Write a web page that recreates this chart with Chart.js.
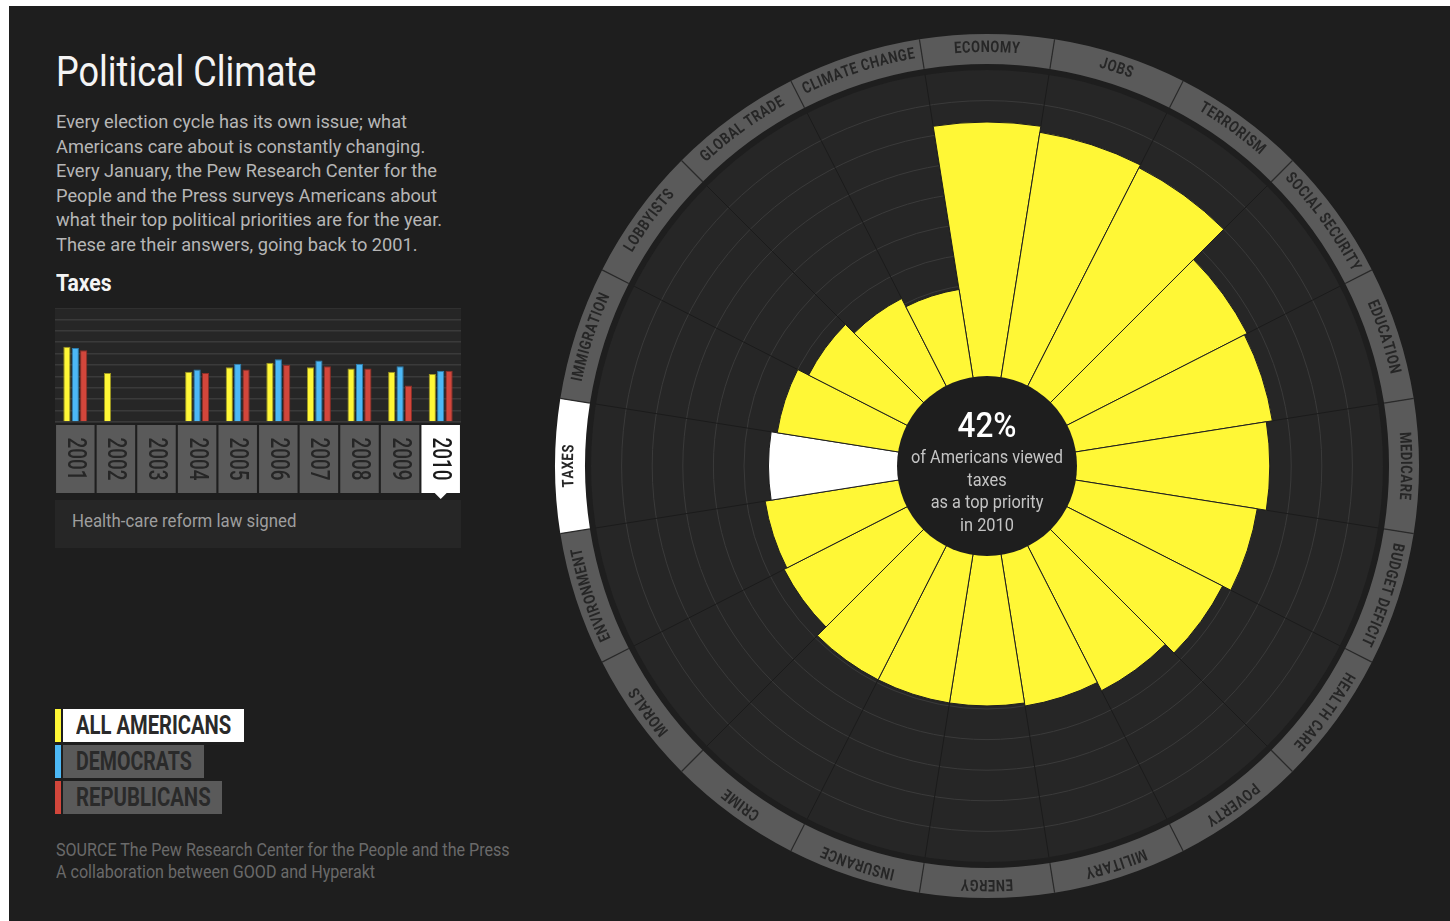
<!DOCTYPE html>
<html>
<head>
<meta charset="utf-8">
<title>Political Climate</title>
<script src="https://cdn.jsdelivr.net/npm/chart.js@4.4.1/dist/chart.umd.min.js"></script>
<style>
  html, body { margin: 0; padding: 0; }
  body {
    width: 1450px; height: 921px; position: relative; overflow: hidden; background: #fff;
    font-family: Roboto, sans-serif;
  }
  #page { position: absolute; left: 9px; top: 6px; right: 0; bottom: 0; background: #1e1e1e; }
  .abs { position: absolute; white-space: nowrap; transform-origin: left top; }
  #title { left: 56px; top: 48px; font-size: 42px; line-height: 48px; color: #f4f4f4; }
  #intro { left: 56px; top: 110px; font-size: 19px; line-height: 24.5px; color: #b6b6b6; }
  #topic { left: 56px; top: 271px; font-size: 23px; line-height: 26px; font-weight: bold; color: #f4f4f4; }
  #barChart { left: 55px; top: 308px; }
  #noteBox { left: 55px; top: 500px; width: 406px; height: 48px; background: #262626; }
  #note { left: 72px; top: 510px; font-size: 18px; line-height: 22px; color: #9e9e9e; }
  #rose { left: 547px; top: 26px; }
  .leg { position: absolute; left: 55px; height: 33px; }
  .leg .stripe { position: absolute; left: 0; top: 0; width: 6px; height: 33px; }
  .leg .box { position: absolute; left: 8px; top: 0; height: 33px; background: #5a5a5a; }
  .leg .txt {
    position: absolute; left: 21px; top: 0; font-size: 25px; font-weight: bold; line-height: 33px;
    color: #2a2a2a; white-space: nowrap; transform-origin: left top;
  }
  .leg.on .box { background: #fff; }
  #source { left: 56px; top: 839px; font-size: 18px; line-height: 21.7px; color: #6a6a6a; }
</style>
</head>
<body>
<div id="page"></div>
<div id="title" class="abs">Political Climate</div>
<div id="intro" class="abs">Every election cycle has its own issue; what<br>Americans care about is constantly changing.<br>Every January, the Pew Research Center for the<br>People and the Press surveys Americans about<br>what their top political priorities are for the year.<br>These are their answers, going back to 2001.</div>
<div id="topic" class="abs">Taxes</div>
<div id="noteBox" class="abs"></div>
<div id="note" class="abs">Health-care reform law signed</div>
<canvas id="barChart" class="abs" width="406" height="240"></canvas>
<div id="legend"></div>
<div id="source" class="abs">SOURCE The Pew Research Center for the People and the Press<br>A collaboration between GOOD and Hyperakt</div>
<canvas id="rose" class="abs" width="880" height="880"></canvas>

<script>
// --- data ---
const categories = ['ECONOMY', 'JOBS', 'TERRORISM', 'SOCIAL SECURITY', 'EDUCATION', 'MEDICARE',
  'BUDGET DEFICIT', 'HEALTH CARE', 'POVERTY', 'MILITARY', 'ENERGY', 'INSURANCE', 'CRIME',
  'MORALS', 'ENVIRONMENT', 'TAXES', 'IMMIGRATION', 'LOBBYISTS', 'GLOBAL TRADE', 'CLIMATE CHANGE'];
const priority2010 = [83, 81, 80, 66, 65, 63, 60, 57, 53, 50, 49, 49, 49, 45, 44, 42, 40, 36, 32, 29];

const years = ['2001', '2002', '2003', '2004', '2005', '2006', '2007', '2008', '2009', '2010'];
const taxesAll = [66, 43, null, 44, 48, 52, 48, 47, 44, 42];
const taxesDem = [65, null, null, 46, 51, 55, 54, 51, 49, 45];
const taxesRep = [63, null, null, 43, 46, 50, 49, 47, 32, 45];

const seriesNames = ['ALL AMERICANS', 'DEMOCRATS', 'REPUBLICANS'];
const seriesColors = ['#fff736', '#4cb8f6', '#d2463b'];

const selectedTopic = 'TAXES';
const selectedYear = '2010';

const font = 'Roboto, sans-serif';

// the original face is a narrow DIN-like one; squeeze Roboto to the same widths
function squeeze(el, target) {
  el.style.transform = 'scaleX(' + (target / el.offsetWidth) + ')';
}
squeeze(document.getElementById('title'), 260);
squeeze(document.getElementById('intro'), 386);
squeeze(document.getElementById('topic'), 56);
squeeze(document.getElementById('note'), 224);
squeeze(document.getElementById('source'), 454);

// legend buttons
const boxWidths = [181, 141, 159];
const textWidths = [155, 116, 135];
const legendEl = document.getElementById('legend');
seriesNames.forEach((name, i) => {
  const row = document.createElement('div');
  row.className = 'leg' + (i === 0 ? ' on' : '');
  row.style.top = (709 + i * 36) + 'px';
  row.innerHTML = '<div class="stripe" style="background:' + seriesColors[i] + '"></div>' +
    '<div class="box" style="width:' + boxWidths[i] + 'px"></div><div class="txt">' + name + '</div>';
  legendEl.appendChild(row);
  squeeze(row.querySelector('.txt'), textWidths[i]);
});

// --- small bar chart with year tabs ---
const yearTabs = {
  id: 'yearTabs',
  beforeDraw(chart) {
    const { ctx, chartArea } = chart;
    ctx.save();
    ctx.fillStyle = '#262626';
    ctx.fillRect(0, 0, chart.width, chartArea.bottom + 1);
    ctx.restore();
  },
  afterDraw(chart) {
    const { ctx, chartArea } = chart;
    const x = chart.scales.x;
    const top = chartArea.bottom + 3;
    const h = 68;
    const w = 38.5;
    ctx.save();
    years.forEach((yr, i) => {
      const cx = x.getPixelForValue(i);
      const on = yr === selectedYear;
      ctx.fillStyle = on ? '#ffffff' : '#5a5a5a';
      ctx.fillRect(cx - w / 2, top, w, h);
      if (on) {
        ctx.beginPath();
        ctx.moveTo(cx - 6, top + h);
        ctx.lineTo(cx + 6, top + h);
        ctx.lineTo(cx, top + h + 6);
        ctx.closePath();
        ctx.fill();
      }
      ctx.save();
      ctx.translate(cx, top + h / 2);
      ctx.rotate(Math.PI / 2);
      ctx.font = '500 26px ' + font;
      ctx.fillStyle = on ? '#1a1a1a' : '#262626';
      ctx.textAlign = 'center';
      ctx.textBaseline = 'middle';
      ctx.fillText(yr, 0, 1, 43);
      ctx.restore();
    });
    ctx.restore();
  }
};

new Chart(document.getElementById('barChart'), {
  type: 'bar',
  data: {
    labels: years,
    datasets: [
      { label: seriesNames[0], data: taxesAll, backgroundColor: seriesColors[0], borderColor: '#9c9520', borderWidth: 1 },
      { label: seriesNames[1], data: taxesDem, backgroundColor: seriesColors[1], borderColor: '#2c7fb0', borderWidth: 1 },
      { label: seriesNames[2], data: taxesRep, backgroundColor: seriesColors[2], borderColor: '#8f2e27', borderWidth: 1 }
    ]
  },
  options: {
    responsive: false,
    animation: false,
    layout: { padding: { top: 0, left: 0, right: 0, bottom: 126 } },
    datasets: { bar: { categoryPercentage: 0.62, barPercentage: 0.86 } },
    plugins: { legend: { display: false }, tooltip: { enabled: false } },
    scales: {
      x: { display: false },
      y: {
        min: 0, max: 100,
        ticks: { display: false, stepSize: 10 },
        grid: { color: '#3a3a3a', lineWidth: 1.5, drawTicks: false },
        border: { display: false }
      }
    }
  },
  plugins: [yearTabs]
});

// --- the big rose ---
const holeRadius = 90;
const roseRadius = 396;
// push the scale's zero out to the edge of the hole
const scaleMin = -100 * holeRadius / (roseRadius - holeRadius);

// letters laid along the ring, squeezed by f
function arcText(ctx, text, cx, cy, radius, midAngle, f) {
  const widths = [...text].map(ch => (ctx.measureText(ch).width + 0.8) * f);
  const total = widths.reduce((a, b) => a + b, 0);
  let a = midAngle - total / radius / 2;
  [...text].forEach((ch, k) => {
    const ca = a + widths[k] / 2 / radius;
    ctx.save();
    ctx.translate(cx, cy);
    ctx.rotate(ca);
    ctx.translate(0, -radius);
    ctx.scale(f, 1);
    ctx.fillText(ch, 0, 0);
    ctx.restore();
    a += widths[k] / radius;
  });
}

const roseDecor = {
  id: 'roseDecor',
  beforeDraw(chart) {
    const { ctx } = chart;
    const r = chart.scales.r;
    const cx = r.xCenter, cy = r.yCenter, R = r.drawingArea;
    const labels = chart.data.labels;
    const step = 2 * Math.PI / labels.length;
    const ringIn = R + 6, ringOut = R + 36;
    ctx.save();
    labels.forEach((lab, i) => {
      const a0 = r.getIndexAngle(i) - Math.PI / 2;
      const a1 = a0 + step;
      ctx.beginPath();
      ctx.arc(cx, cy, ringOut, a0, a1);
      ctx.arc(cx, cy, ringIn, a1, a0, true);
      ctx.closePath();
      ctx.fillStyle = lab === selectedTopic ? '#ffffff' : '#5a5a5a';
      ctx.fill();
    });
    ctx.strokeStyle = '#2a2a2a';
    ctx.lineWidth = 1.2;
    labels.forEach((lab, i) => {
      const a = r.getIndexAngle(i) - Math.PI / 2;
      ctx.beginPath();
      ctx.moveTo(cx + Math.cos(a) * ringIn, cy + Math.sin(a) * ringIn);
      ctx.lineTo(cx + Math.cos(a) * ringOut, cy + Math.sin(a) * ringOut);
      ctx.stroke();
    });
    ctx.font = 'bold 16px ' + font;
    ctx.fillStyle = '#262626';
    ctx.textAlign = 'center';
    ctx.textBaseline = 'middle';
    const f = 66 / (ctx.measureText('ECONOMY').width + 7 * 0.8);
    labels.forEach((lab, i) => {
      const mid = r.getIndexAngle(i) + step / 2;
      arcText(ctx, lab, cx, cy, (ringIn + ringOut) / 2 + 1, mid, f);
    });
    ctx.beginPath();
    ctx.arc(cx, cy, R, 0, Math.PI * 2);
    ctx.fillStyle = '#262626';
    ctx.fill();
    ctx.restore();
  },
  afterDatasetsDraw(chart) {
    const { ctx } = chart;
    const r = chart.scales.r;
    const cx = r.xCenter, cy = r.yCenter;
    const hole = r.getDistanceFromCenterForValue(0);
    const idx = chart.data.labels.indexOf(selectedTopic);
    const value = chart.data.datasets[0].data[idx];
    ctx.save();
    ctx.beginPath();
    ctx.arc(cx, cy, hole, 0, Math.PI * 2);
    ctx.fillStyle = '#1e1e1e';
    ctx.fill();
    ctx.textAlign = 'center';
    ctx.textBaseline = 'alphabetic';
    ctx.fillStyle = '#ffffff';
    ctx.font = '500 35px ' + font;
    ctx.fillText(value + '%', cx, cy - 29, 59);
    ctx.fillStyle = '#c4c4c4';
    ctx.font = '18px ' + font;
    const f = 152 / ctx.measureText('of Americans viewed').width;
    const lines = ['of Americans viewed', selectedTopic.toLowerCase(), 'as a top priority', 'in ' + selectedYear];
    lines.forEach((t, k) => {
      ctx.fillText(t, cx, cy - 3 + k * 22.7, ctx.measureText(t).width * f);
    });
    ctx.restore();
  }
};

new Chart(document.getElementById('rose'), {
  type: 'polarArea',
  data: {
    labels: categories,
    datasets: [{
      data: priority2010,
      backgroundColor: categories.map(c => c === selectedTopic ? '#ffffff' : '#fff736'),
      borderColor: '#1e1e1e',
      borderWidth: 1
    }]
  },
  options: {
    responsive: false,
    animation: false,
    layout: { padding: 44 },
    plugins: { legend: { display: false }, tooltip: { enabled: false } },
    scales: {
      r: {
        min: scaleMin,
        max: 100,
        startAngle: -9,
        ticks: { display: false, stepSize: 10 },
        grid: {
          circular: true,
          lineWidth: 1,
          color: (c) => (c.tick && c.tick.value > 0 && c.tick.value < 100) ? '#3a3a3a' : 'rgba(0,0,0,0)'
        },
        angleLines: { display: true, color: '#1b1b1b', lineWidth: 1 },
        pointLabels: { display: false }
      }
    }
  },
  plugins: [roseDecor]
});
</script>
</body>
</html>
